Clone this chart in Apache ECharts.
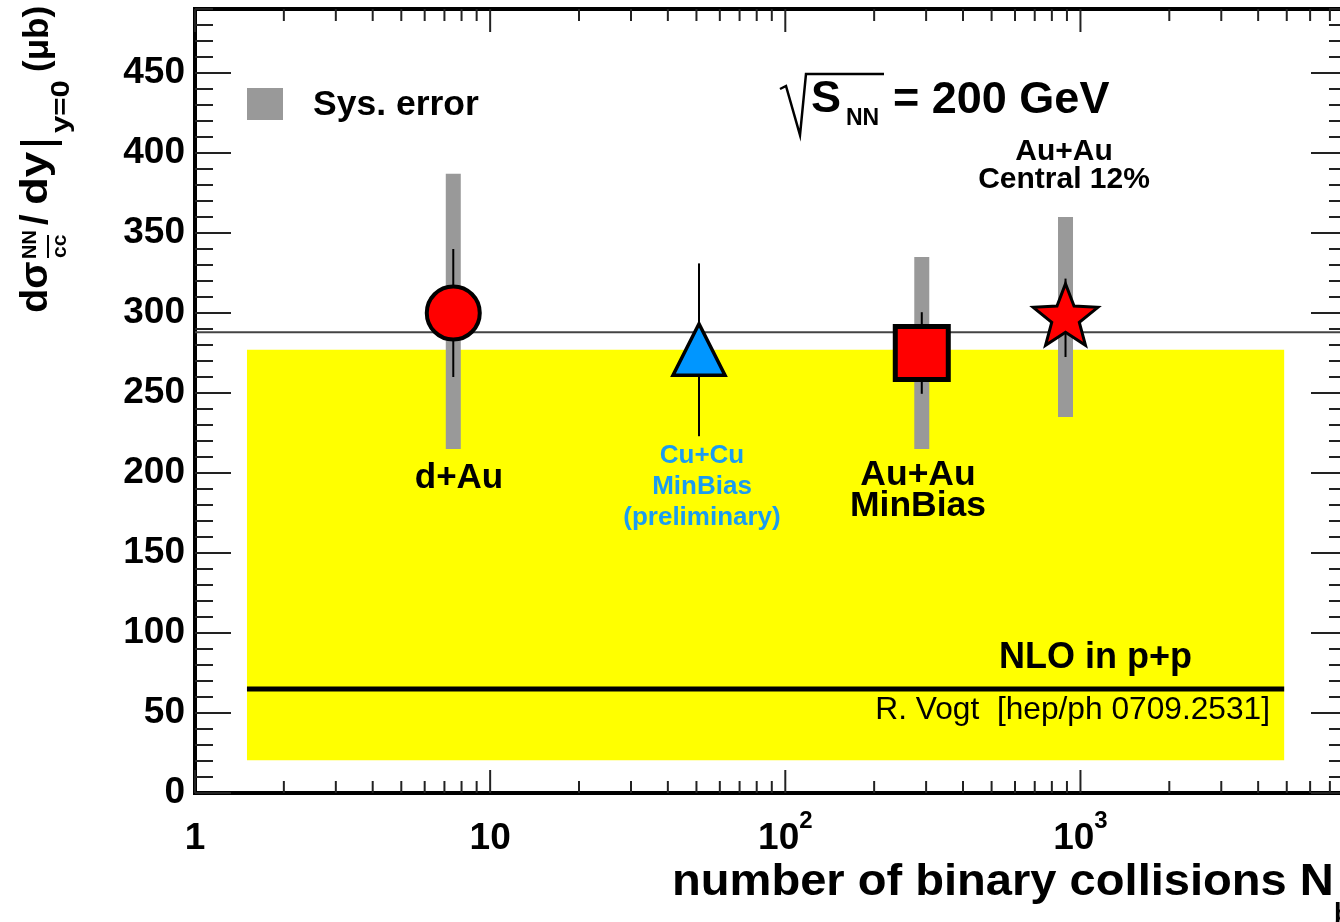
<!DOCTYPE html>
<html><head><meta charset="utf-8">
<script src="https://cdn.jsdelivr.net/npm/echarts@6/dist/echarts.min.js"></script>
<style>html,body{margin:0;padding:0;background:#fff;overflow:hidden;width:1340px;height:922px}#c{width:1400px;height:922px}</style>
</head><body><div id="c"></div>
<script>
// ---------------- data ----------------
const systems   = ['d+Au', 'Cu+Cu', 'Au+Au MinBias', 'Au+Au Central 12%'];
const nBinary   = [7.5, 51, 290, 890];
const sigmaCC   = [300, 277, 275, 297];
const statErr   = [40, 54, 25.5, 24.5];
const sysLow    = [215, null, 215, 235];
const sysHigh   = [387, null, 335, 360];
const averageLevel = 288;
const nloCentral   = 65;
const nloBandLow   = 20.5;
const nloBandHigh  = 277;
const nloXRange    = [1.5, 4900];
const xRange = [1, 8000];
const yRange = [0, 490];
const xMajorTicks = [1, 10, 100, 1000];
const xMinorMultipliers = [2, 3, 4, 5, 6, 7, 8, 9];
const yTickStep = 10, yLabelStep = 50;
const xTickLabels = {1: '{b|1}', 10: '{b|10}', 100: '{b|10}{s|2}', 1000: '{b|10}{s|3}'};

// ---------------- helpers ----------------
const FONT = "'Liberation Sans', Arial, Helvetica, sans-serif";
const markerShapes = ['circle', 'triangle', 'square', 'star'];
const markerFill = ['#ff0000', '#0096ff', '#ff0000', '#ff0000'];
const CU_COLOR = '#1a9cf2';

const tickData = [];
xMajorTicks.forEach(d => {
  tickData.push([d, yRange[0], 0, 1]);
  xMinorMultipliers.forEach(m => { if (d * m <= xRange[1]) tickData.push([d * m, yRange[0], 0, 0]); });
});
for (let v = yRange[0]; v <= yRange[1]; v += yTickStep) tickData.push([xRange[0], v, 1, v % yLabelStep === 0 ? 1 : 0]);

function starPoints(cx, cy, R, r) {
  const pts = [];
  for (let k = 0; k < 10; k++) {
    const a = -Math.PI / 2 + k * Math.PI / 5;
    const rr = k % 2 === 0 ? R : r;
    pts.push([cx + rr * Math.cos(a), cy + rr * Math.sin(a)]);
  }
  return pts;
}
function txt(x, y, text, font, align, extra, color) {
  return Object.assign({type: 'text', x, y, z: 10, style: {text, font: font + ' ' + FONT, fill: color || '#000', align, verticalAlign: 'middle', textAlign: align, textVerticalAlign: 'middle'}}, extra || {});
}

const chart = echarts.init(document.getElementById('c'), null, {renderer: 'canvas'});

const option = {
  animation: false,
  backgroundColor: '#fff',
  grid: {left: 195, top: 9, width: 1152, height: 784, show: true, borderColor: '#000', borderWidth: 4, backgroundColor: 'transparent', containLabel: false, outerBoundsMode: 'none'},
  xAxis: {
    type: 'log', logBase: 10, min: xRange[0], max: xRange[1],
    axisLine: {show: false}, axisTick: {show: false}, splitLine: {show: false}, minorTick: {show: false},
    axisLabel: {
      margin: 16, interval: 0, showMaxLabel: false,
      formatter: v => { const k = Math.round(v); return xTickLabels[k] && Math.abs(v - k) < 1e-6 * k ? xTickLabels[k] : ''; },
      rich: {
        b: {fontFamily: FONT, fontWeight: 'bold', fontSize: 37, color: '#000', lineHeight: 48, verticalAlign: 'bottom'},
        s: {fontFamily: FONT, fontWeight: 'bold', fontSize: 24, color: '#000', lineHeight: 24, verticalAlign: 'top'}
      }
    }
  },
  yAxis: {
    type: 'value', min: yRange[0], max: yRange[1], interval: yLabelStep,
    axisLine: {show: false}, axisTick: {show: false}, splitLine: {show: false},
    axisLabel: {
      margin: 10, showMaxLabel: false,
      formatter: v => (v % yLabelStep === 0 ? String(v) : ''),
      fontFamily: FONT, fontWeight: 'bold', fontSize: 37, color: '#000', padding: [11, 0, 0, 0]
    }
  },
  series: [
    { // NLO uncertainty band
      type: 'custom', z: 1, silent: true,
      data: [[nloXRange[0], nloBandLow, nloXRange[1], nloBandHigh]],
      encode: {x: [0, 2], y: [1, 3]},
      renderItem: (p, api) => {
        const a = api.coord([api.value(0), api.value(3)]);
        const b = api.coord([api.value(2), api.value(1)]);
        return {type: 'rect', shape: {x: a[0], y: a[1], width: b[0] - a[0], height: b[1] - a[1]}, style: {fill: '#ffff00'}};
      }
    },
    { // NLO central value
      type: 'line', z: 2, silent: true, symbol: 'none',
      data: [[nloXRange[0], nloCentral], [nloXRange[1], nloCentral]],
      lineStyle: {color: '#000', width: 5}
    },
    { // average level line
      type: 'line', z: 2, silent: true, symbol: 'none',
      data: [[xRange[0], averageLevel], [xRange[1], averageLevel]],
      lineStyle: {color: '#444', width: 2}
    },
    { // frame ticks
      type: 'custom', z: 3, silent: true, clip: false,
      data: tickData, encode: {x: 0, y: 1},
      renderItem: (p, api) => {
        const cs = p.coordSys;
        const kind = api.value(2), major = api.value(3);
        const st = {stroke: '#222', lineWidth: 2};
        if (kind === 0) {
          const px = api.coord([api.value(0), yRange[0]])[0];
          const len = major ? 23 : 12;
          return {type: 'group', children: [
            {type: 'line', shape: {x1: px, y1: cs.y + cs.height, x2: px, y2: cs.y + cs.height - len}, style: st},
            {type: 'line', shape: {x1: px, y1: cs.y, x2: px, y2: cs.y + len}, style: st}
          ]};
        }
        const py = api.coord([xRange[0], api.value(1)])[1];
        const len = major ? 36 : 18;
        return {type: 'group', children: [
          {type: 'line', shape: {x1: cs.x, y1: py, x2: cs.x + len, y2: py}, style: st},
          {type: 'line', shape: {x1: cs.x + cs.width, y1: py, x2: cs.x + cs.width - len, y2: py}, style: st}
        ]};
      }
    },
    { // measurements
      type: 'custom', z: 5, silent: true, clip: false,
      data: nBinary.map((n, i) => [n, sigmaCC[i]]), encode: {x: 0, y: 1},
      renderItem: (p, api) => {
        const i = p.dataIndex;
        const x = nBinary[i], y = sigmaCC[i];
        const c = api.coord([x, y]);
        const ch = [];
        if (sysLow[i] != null) {
          const t = api.coord([x, sysHigh[i]])[1], b = api.coord([x, sysLow[i]])[1];
          ch.push({type: 'rect', shape: {x: c[0] - 7.5, y: t, width: 15, height: b - t}, style: {fill: '#999999'}});
        }
        const et = api.coord([x, y + statErr[i]])[1], eb = api.coord([x, y - statErr[i]])[1];
        ch.push({type: 'line', shape: {x1: c[0], y1: et, x2: c[0], y2: eb}, style: {stroke: '#000', lineWidth: 2}});
        const shape = markerShapes[i], fill = markerFill[i];
        if (shape === 'circle') {
          ch.push({type: 'circle', shape: {cx: c[0], cy: c[1], r: 26.5}, style: {fill, stroke: '#000', lineWidth: 4}});
        } else if (shape === 'triangle') {
          ch.push({type: 'polygon', shape: {points: [[c[0], c[1] - 26], [c[0] + 26, c[1] + 25.5], [c[0] - 26, c[1] + 25.5]]}, style: {fill, stroke: '#000', lineWidth: 3.5, lineJoin: 'miter'}});
        } else if (shape === 'square') {
          ch.push({type: 'rect', shape: {x: c[0] - 26.5, y: c[1] - 26.5, width: 53, height: 53}, style: {fill, stroke: '#000', lineWidth: 5}});
        } else {
          ch.push({type: 'polygon', shape: {points: starPoints(c[0], c[1], 34, 14.5)}, style: {fill, stroke: '#000', lineWidth: 3, lineJoin: 'miter'}});
        }
        return {type: 'group', children: ch};
      }
    }
  ],
  graphic: [
    // legend
    {type: 'rect', shape: {x: 247, y: 88, width: 36, height: 32}, style: {fill: '#999999'}, z: 10},
    txt(313, 105, 'Sys. error', 'bold 35.5px', 'left'),
    // sqrt(s_NN) = 200 GeV
    {type: 'polyline', shape: {points: [[780, 89], [786, 86], [800, 135], [806, 74], [884, 74]]}, style: {stroke: '#000', lineWidth: 2.5, fill: null}, z: 10},
    txt(811, 100, 'S', 'bold 45px', 'left'),
    txt(846, 119, 'NN', 'bold 23px', 'left'),
    txt(893, 101, '= 200 GeV', 'bold 45px', 'left'),
    // system labels
    txt(1064, 152, 'Au+Au', 'bold 30px', 'center'),
    txt(1064, 180, 'Central 12%', 'bold 30px', 'center'),
    txt(459, 478, 'd+Au', 'bold 35px', 'center'),
    txt(702, 456, 'Cu+Cu', 'bold 26px', 'center', null, CU_COLOR),
    txt(702, 487, 'MinBias', 'bold 26px', 'center', null, CU_COLOR),
    txt(702, 518, '(preliminary)', 'bold 26px', 'center', null, CU_COLOR),
    txt(918, 475, 'Au+Au', 'bold 35.5px', 'center'),
    txt(918, 506, 'MinBias', 'bold 35.5px', 'center'),
    txt(1192, 658, 'NLO in p+p', 'bold 36px', 'right'),
    txt(1270, 710, 'R. Vogt  [hep/ph 0709.2531]', '31.7px', 'right'),
    // x-axis title
    txt(672, 883, 'number of binary collisions N', 'bold 44px', 'left', {scaleX: 1.07}),
    txt(1334, 915, 'bin', 'bold 27px', 'left'),
    // y-axis title (rotated group, local x runs bottom->top)
    {type: 'group', x: 0, y: 313, rotation: Math.PI / 2, z: 10, children: [
      txt(0, 37, 'dσ', 'bold 38px', 'left', {scaleX: 1.05}),
      txt(54, 30, 'NN', 'bold 20px', 'left'),
      txt(55, 60, 'cc', 'bold 21px', 'left'),
      {type: 'line', shape: {x1: 55, y1: 48, x2: 78, y2: 48}, style: {stroke: '#000', lineWidth: 2}},
      txt(88, 37, '/', 'bold 38px', 'left'),
      txt(108, 37, 'dy', 'bold 38px', 'left', {scaleX: 1.2}),
      {type: 'line', shape: {x1: 170, y1: 20, x2: 170, y2: 62}, style: {stroke: '#000', lineWidth: 4}},
      txt(180, 62, 'y=0', 'bold 26px', 'left', {scaleX: 1.2}),
      txt(241, 38, '(μb)', 'bold 35px', 'left')
    ]}
  ]
};
chart.setOption(option);
</script></body></html>
